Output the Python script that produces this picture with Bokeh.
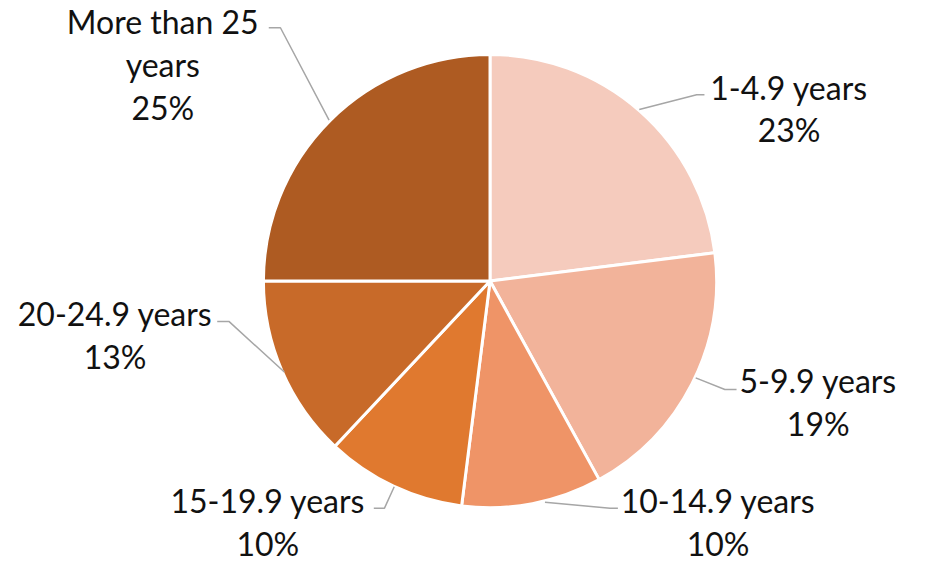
import math
from bokeh.plotting import figure
from bokeh.models import Range1d, ColumnDataSource
from bokeh.core.properties import value
from bokeh.embed import file_html
from bokeh.resources import INLINE

categories = ["1-4.9 years", "5-9.9 years", "10-14.9 years", "15-19.9 years",
              "20-24.9 years", "More than 25 years"]
shares = [23, 19, 10, 10, 13, 25]
colors = ["#F5CBBD", "#F2B39A", "#EF9467", "#E0792F", "#C86A29", "#AE5B22"]
label_lines = [["1-4.9 years", "23%"], ["5-9.9 years", "19%"], ["10-14.9 years", "10%"],
               ["15-19.9 years", "10%"], ["20-24.9 years", "13%"],
               ["More than 25", "years", "25%"]]

W, H = 909, 566
REF_W, REF_H = 925, 582
s = H / REF_H  # uniform scale so the reference layout fits
span_x = W / s
x0 = (REF_W - span_x) / 2
y_shift = 7

def fy(y):
    return REF_H - y

p = figure(width=W, height=H, output_backend="svg", toolbar_location=None,
           x_range=Range1d(x0, x0 + span_x),
           y_range=Range1d(0 - y_shift, REF_H - y_shift),
           min_border=0)
p.axis.visible = False
p.grid.visible = False
p.outline_line_color = None

cx, cy, r = 498.5, 295.5, 233
total = sum(shares)
starts, ends = [], []
cum = 0.0
for v in shares:
    starts.append(math.pi / 2 - 2 * math.pi * cum / total)
    cum += v
    ends.append(math.pi / 2 - 2 * math.pi * cum / total)

src = ColumnDataSource(dict(x=[cx] * len(shares), y=[fy(cy)] * len(shares),
                            start=starts, end=ends, color=colors))
p.wedge(x="x", y="y", radius=r, start_angle="start", end_angle="end",
        direction="clock", fill_color="color", line_color="white", line_width=3,
        source=src)

# leader lines (layout)
leaders = [
    [(652, 119), (711, 104), (719, 104)],
    [(710, 395), (740, 407), (752, 407)],
    [(555, 523), (622, 529), (630, 529)],
    [(400, 507), (390, 529), (379, 529)],
    [(287, 389), (230, 337), (218, 337)],
    [(333, 130), (283, 35), (271, 35)],
]
for pts in leaders:
    p.line([a for a, b in pts], [fy(b) for a, b in pts], line_color="#A6A6A6", line_width=1.5)

# label layout: center x, first line center y
label_pos = [(806, 96), (836, 398), (733, 521), (270, 521), (113, 329), (162, 29)]
line_gap = 44
xs, ys, ts = [], [], []
for (lx, ly), lines in zip(label_pos, label_lines):
    for i, t in enumerate(lines):
        xs.append(lx)
        ys.append(fy(ly + i * line_gap))
        ts.append(t)
p.text(x=xs, y=ys, text=ts, text_align="center", text_baseline="middle",
       text_font=value("Lato"), text_font_size="32px", text_color="#111111")

open("out.html", "w").write(file_html(p, INLINE))
